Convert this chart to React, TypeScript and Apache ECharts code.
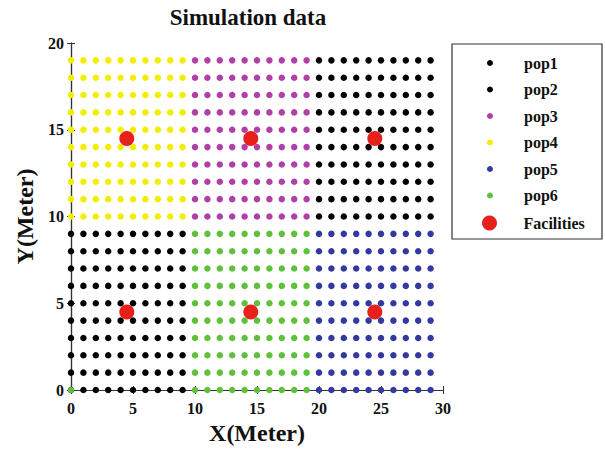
import React, { useEffect, useRef } from "react";
import * as echarts from "echarts";

// Grid coordinates of each population block
const colsA = [0, 1, 2, 3, 4, 5, 6, 7, 8, 9];
const colsB = [10, 11, 12, 13, 14, 15, 16, 17, 18, 19];
const colsC = [20, 21, 22, 23, 24, 25, 26, 27, 28, 29];
const rowsLow = [0, 1, 2, 3, 4, 5, 6, 7, 8, 9];
const rowsHigh = [10, 11, 12, 13, 14, 15, 16, 17, 18, 19];

const popNames = ["pop1", "pop2", "pop3", "pop4", "pop5", "pop6"];
const popColors = ["#000000", "#000000", "#b03fa6", "#f2ee00", "#33399e", "#5fc03c"];
const popCols = [colsC, colsA, colsB, colsA, colsC, colsB];
const popRows = [rowsHigh, rowsLow, rowsHigh, rowsHigh, rowsLow, rowsLow];
const pop6Extra = [[0, 0]];

const facilitiesX = [4.5, 14.5, 24.5, 4.5, 14.5, 24.5];
const facilitiesY = [14.5, 14.5, 14.5, 4.5, 4.5, 4.5];

const xTicks = [0, 5, 10, 15, 20, 25, 30];
const yTicks = [0, 5, 10, 15, 20];

const FONT = "'Liberation Serif', 'DejaVu Serif', serif";

function grid(cols: number[], rows: number[]) {
  const out: number[][] = [];
  for (const x of cols) for (const y of rows) out.push([x, y]);
  return out;
}

export default function App() {
  const ref = useRef<HTMLDivElement>(null);
  useEffect(() => {
    if (!ref.current) return;
    const chart = echarts.init(ref.current, undefined, { renderer: "svg" });
    const axisLine = { show: true, lineStyle: { color: "#333", width: 1.2 } };
    const popSeries = popNames.map((name, i) => ({
      name,
      type: "scatter",
      symbol: "circle",
      symbolSize: 6.5,
      itemStyle: { color: popColors[i], opacity: 1 },
      data: grid(popCols[i], popRows[i]).concat(i === 5 ? pop6Extra : []),
    }));
    const legendText = { fontFamily: FONT, fontWeight: "bold", fontSize: 16, color: "#111" };
    chart.setOption({
      animation: false,
      title: {
        text: "Simulation data",
        left: 243,
        textAlign: "center",
        top: 1,
        textStyle: { fontFamily: FONT, fontWeight: "bold", fontSize: 23, color: "#111" },
      },
      grid: { left: 71, right: 162, top: 43, bottom: 60, outerBoundsMode: "none", containLabel: false },
      xAxis: [
        {
          type: "value",
          min: 0,
          max: 30,
          interval: 5,
          position: "bottom",
          axisLine,
          axisTick: { show: true, inside: true, length: 4, lineStyle: { color: "#333" } },
          splitLine: { show: false },
          axisLabel: {
            fontFamily: FONT,
            fontWeight: "bold",
            fontSize: 16,
            color: "#111",
            margin: 10,
            customValues: xTicks,
          },
          name: "X(Meter)",
          nameLocation: "middle",
          nameGap: 30,
          nameTextStyle: { fontFamily: FONT, fontWeight: "bold", fontSize: 24, color: "#111" },
        },
        {
          type: "value",
          min: 0,
          max: 30,
          interval: 5,
          position: "top",
          axisLine,
          axisTick: { show: true, inside: true, length: 4, lineStyle: { color: "#333" } },
          axisLabel: { show: false },
          splitLine: { show: false },
        },
      ],
      yAxis: [
        {
          type: "value",
          min: 0,
          max: 20,
          interval: 5,
          position: "left",
          axisLine,
          axisTick: { show: true, inside: true, length: 4, lineStyle: { color: "#333" } },
          splitLine: { show: false },
          axisLabel: {
            fontFamily: FONT,
            fontWeight: "bold",
            fontSize: 16,
            color: "#111",
            margin: 7,
            customValues: yTicks,
          },
          name: "Y(Meter)",
          nameLocation: "middle",
          nameGap: 33,
          nameTextStyle: { fontFamily: FONT, fontWeight: "bold", fontSize: 24, color: "#111" },
        },
        {
          type: "value",
          min: 0,
          max: 20,
          interval: 5,
          position: "right",
          axisLine,
          axisTick: { show: true, inside: true, length: 4, lineStyle: { color: "#333" } },
          axisLabel: { show: false },
          splitLine: { show: false },
        },
      ],
      legend: [
        {
          data: popNames.map((n) => ({ name: n, icon: "circle" })),
          orient: "vertical",
          left: 487,
          top: 55,
          padding: 0,
          itemWidth: 58,
          itemHeight: 6,
          itemGap: 10.5,
          selectedMode: false,
          textStyle: legendText,
        },
        {
          data: [{ name: "Facilities", icon: "circle" }],
          orient: "vertical",
          left: 482,
          top: 215,
          padding: 0,
          itemWidth: 58,
          itemHeight: 15,
          selectedMode: false,
          textStyle: legendText,
        },
      ],
      graphic: [
        {
          type: "rect",
          shape: { x: 452, y: 44, width: 150, height: 195 },
          style: { fill: "none", stroke: "#333", lineWidth: 1.2 },
          z: 100,
        },
      ],
      series: [
        ...popSeries,
        {
          name: "Facilities",
          type: "scatter",
          symbol: "circle",
          symbolSize: 15,
          itemStyle: { color: "#e8201c", opacity: 1 },
          data: facilitiesX.map((x, i) => [x, facilitiesY[i]]),
        },
      ],
    });
    return () => chart.dispose();
  }, []);
  return (
    <div
      ref={ref}
      style={{ position: "absolute", left: 0, top: 0, width: 605, height: 450 }}
    />
  );
}
